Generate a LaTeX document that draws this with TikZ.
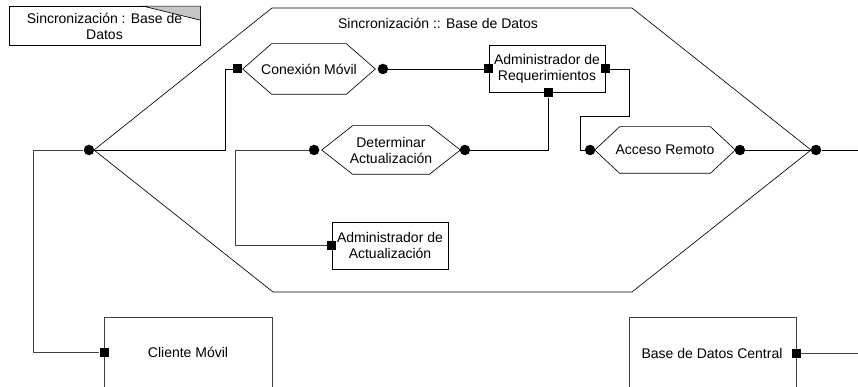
\documentclass[tikz,border=0pt]{standalone}
\usepackage{fontspec}
\setmainfont{Liberation Sans}
\usetikzlibrary{positioning,calc}

\begin{document}
\begin{tikzpicture}[x=1pt, y=-1pt, line width=0.65pt,
  font=\fontsize{14}{16}\selectfont,
  proc/.style={draw, fill=white, align=center, minimum width=116pt, minimum height=47pt, inner sep=1pt},
  hexa/.style={align=center, minimum width=138pt, minimum height=48pt, inner sep=0pt},
  port/.style={fill=black, minimum size=9pt, inner sep=0pt},
  joint/.style={circle, fill=black, minimum size=10.5pt, inner sep=0pt},
  wire/.style={draw=black!75}]
  % marco
  \useasboundingbox (0,0) rectangle (858,387);
  \clip (0,0) rectangle (858,387);
  \def\hexshape#1#2{\draw (#1.west) -- ([xshift=#2]#1.north west) -- ([xshift=-#2]#1.north east)
    -- (#1.east) -- ([xshift=-#2]#1.south east) -- ([xshift=#2]#1.south west) -- cycle;}

  % nota
  \node[draw, fill=white, align=center, minimum width=191pt, minimum height=39pt, inner sep=0pt] (nota) at (104.5,26) {Sincronización : Base de\\Datos};
  \filldraw[fill=gray!45] ([xshift=-57pt]nota.north east) -- ([yshift=-14pt]nota.north east) -- (nota.north east) -- cycle;

  % subsistema
  \draw (94,150) -- (272,8) -- (632,8) -- (811,150) -- (632,292) -- (273,292) -- cycle;
  \node (titulo) at (438,23) {Sincronización :: Base de Datos};
  \node[joint] (bigL) at (89,150) {};
  \node[joint] (bigR) at (816,150) {};

  % procesos
  \node[hexa, minimum width=132pt, minimum height=50pt] (conex) at (309,69) {Conexión Móvil};
  \node[hexa] (determ) at (391,150) {Determinar\\Actualización};
  \node[hexa, minimum width=140pt, minimum height=46pt] (acceso) at (665,150) {Acceso Remoto};
  \hexshape{conex}{29pt}
  \hexshape{determ}{31pt}
  \hexshape{acceso}{25pt}

  \node[proc] (admreq) at (547,69) {Administrador de\\Requerimientos};
  \node[proc] (admact) at (390,245.5) {Administrador de\\Actualización};

  % puertos
  \node[port, left=0pt of conex.west] (conL) {};
  \node[joint, right=2pt of conex.east] (conR) {};
  \node[joint, left=2pt of determ.west] (detL) {};
  \node[joint, right=-1pt of determ.east] (detR) {};
  \node[joint, left=-1pt of acceso.west] (accL) {};
  \node[joint, right=-1pt of acceso.east] (accR) {};
  \node[port] (reqL) at (admreq.west) {};
  \node[port] (reqR) at (admreq.east) {};
  \node[port] (reqB) at ([xshift=1pt]admreq.south) {};
  \node[port] (actP) at (admact.west) {};

  % externos
  \draw[wire] (104,400) |- (272,317) -- (272,400);
  \node (cliente) at (188,352) {Cliente Móvil};
  \node[port] (cliP) at (104,352) {};
  \draw[wire] (629,400) |- (796,317) -- (796,400);
  \node (central) at (712,353) {Base de Datos Central};
  \node[port] (bdcP) at (796,353) {};
  \coordinate (outA) at (858,150);
  \coordinate (outB) at (858,353);

  % conexiones
  \draw (bigL) -- (225,150) |- (conL);
  \draw (conR) -- (reqL);
  \draw (reqB) |- (detR);
  \draw (reqR) -- (629,69) |- (580,116) |- (accL);
  \draw[wire] (detL) -- (235,150) |- (actP);
  \draw (accR) -- (bigR);
  \draw (bigR) -- (outA);
  \draw[wire] (bigL) -- (33,150) |- (cliP);
  \draw[wire] (bdcP) -- (outB);
\end{tikzpicture}
\end{document}
